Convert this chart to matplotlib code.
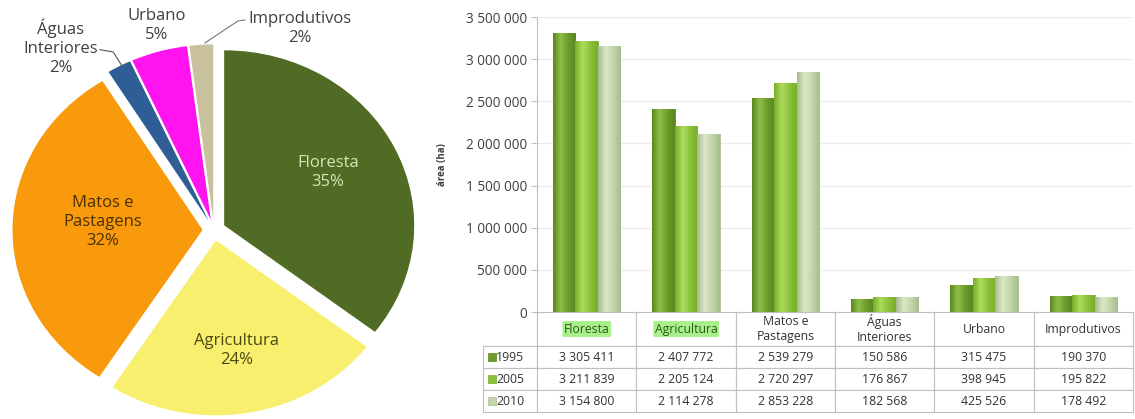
import matplotlib.pyplot as plt
import numpy as np
from matplotlib.colors import LinearSegmentedColormap
from matplotlib.patches import Rectangle

plt.rcParams['font.family'] = ['Open Sans', 'DejaVu Sans']

# dados (ha)
categorias = ['Floresta', 'Agricultura', 'Matos e\nPastagens', 'Águas\nInteriores', 'Urbano', 'Improdutivos']
anos = ['1995', '2005', '2010']
area_1995 = [3305411, 2407772, 2539279, 150586, 315475, 190370]
area_2005 = [3211839, 2205124, 2720297, 176867, 398945, 195822]
area_2010 = [3154800, 2114278, 2853228, 182568, 425526, 178492]
yticks = [0, 500000, 1000000, 1500000, 2000000, 2500000, 3000000, 3500000]

cores_pie = ['#4f6b24', '#f8ef6e', '#f89a0c', '#2f5d96', '#ff14f0', '#c9c19d']
cores_barras = [('#5b8720', '#8fbf48', '#6e9c2c'),
                ('#79ad2a', '#aedc5e', '#8cc23a'),
                ('#a6bd8c', '#dbe8c9', '#c2d6aa')]


def fmt(v):
    return f'{v:,}'.replace(',', ' ')


fig = plt.figure(figsize=(11.35, 4.19), dpi=100)

# ---------------- pie (2010) ----------------
ax1 = fig.add_axes([0, 0, 430 / 1135, 1])
wedges, _ = ax1.pie(area_2010, colors=cores_pie, startangle=90, counterclock=False,
                    explode=[0.06] * 6, wedgeprops=dict(linewidth=0))
ax1.set_aspect('auto')
ax1.set_xlim(-1.126, 1.137)
ax1.set_ylim(-1.08, 1.314)

total = sum(area_2010)
pct = [round(v / total * 100) for v in area_2010]
nomes = ['Floresta', 'Agricultura', 'Matos e\nPastagens', 'Águas\nInteriores', 'Urbano', 'Improdutivos']
pos_txt = [(0.60, 0.33), (0.12, -0.686), (-0.584, 0.046), (-0.805, 1.045), (-0.30, 1.166), (0.453, 1.149)]
cor_txt = ['#d6e6b4', '#4a4a10', '#4a3000', '#404040', '#404040', '#404040']
for nome, p, (x, y), c in zip(nomes, pct, pos_txt, cor_txt):
    ax1.text(x, y, f'{nome}\n{p}%', ha='center', va='center', fontsize=12,
             color=c, linespacing=1.25)

# linhas de ligacao
ax1.plot([-0.60, -0.53, -0.484], [1.03, 1.017, 0.937], color='#555555', lw=0.8)
ax1.plot([0.163, 0.126, -0.047], [1.2, 1.194, 1.069], color='#777777', lw=0.8)

# ---------------- barras ----------------
ax2 = fig.add_axes([537 / 1135, (419 - 312) / 419, 596 / 1135, 295 / 419])
x = np.arange(len(categorias))
w = 0.225
series = [area_1995, area_2005, area_2010]
grad = np.linspace(0, 1, 50).reshape(1, -1)
for i, (vals, cores) in enumerate(zip(series, cores_barras)):
    cmap = LinearSegmentedColormap.from_list('g%d' % i, [cores[0], cores[1], cores[2], cores[0]])
    bars = ax2.bar(x + (i - 1) * w, vals, w, color=cores[2], edgecolor=cores[0],
                   linewidth=0.6, zorder=2)
    for b in bars:
        im = ax2.imshow(grad, extent=[b.get_x(), b.get_x() + b.get_width(), 0, b.get_height()],
                        cmap=cmap, aspect='auto', zorder=2.5)
        im.set_clip_path(b)

ax2.set_xlim(-0.5, len(categorias) - 0.5)
ax2.set_ylim(0, 3500000)
ax2.set_yticks(yticks)
ax2.set_yticklabels([fmt(v) for v in yticks], fontsize=9.8, color='#404040')
ax2.set_xticks([])
ax2.yaxis.grid(True, color='#ececec', lw=0.8, zorder=0)
for s in ['top', 'right', 'bottom']:
    ax2.spines[s].set_visible(False)
ax2.spines['left'].set_color('#bfbfbf')
ax2.tick_params(axis='y', length=4, color='#bfbfbf', pad=3)
ax2.set_ylabel('área (ha)', fontsize=7, fontweight='bold', color='#404040')
ax2.yaxis.set_label_coords(-0.150, 0.5)

# tabela de dados
cell_text = [[''] + categorias]
for ano, vals in zip(anos, series):
    cell_text.append([ano] + [fmt(v) for v in vals])
col_w = [54] + [99] * 6
tab = ax2.table(cellText=cell_text, colWidths=[c / sum(col_w) for c in col_w],
                cellLoc='center', bbox=[(483 - 537) / 596, -100 / 295, 650 / 596, 100 / 295])
tab.auto_set_font_size(False)
tab.set_fontsize(8.8)
for (r, c), cell in tab.get_celld().items():
    cell.set_edgecolor('#bfbfbf')
    cell.set_linewidth(0.8)
    cell.get_text().set_color('#333333')
    cell.set_height(34 if r == 0 else 22)
    if r > 0 and c == 0:
        cell._loc = 'right'
tab[(0, 0)].visible_edges = 'BR'
for c in (1, 2):
    tab[(0, c)].get_text().set_bbox(dict(boxstyle='round,pad=0.12', fc='#a8f08c', ec='none'))
    tab[(0, c)].get_text().set_color('#2b5a1a')

# marcadores de legenda
for i, cores in enumerate(cores_barras):
    yc = (312 - (357 + 22 * i)) / 295
    ax2.add_patch(Rectangle((-0.083, yc - 0.013), 0.0135, 0.025, transform=ax2.transAxes,
                            facecolor=cores[2], edgecolor=cores[0], lw=0.5, clip_on=False))

fig.savefig('out.png', dpi=100, facecolor='white')
